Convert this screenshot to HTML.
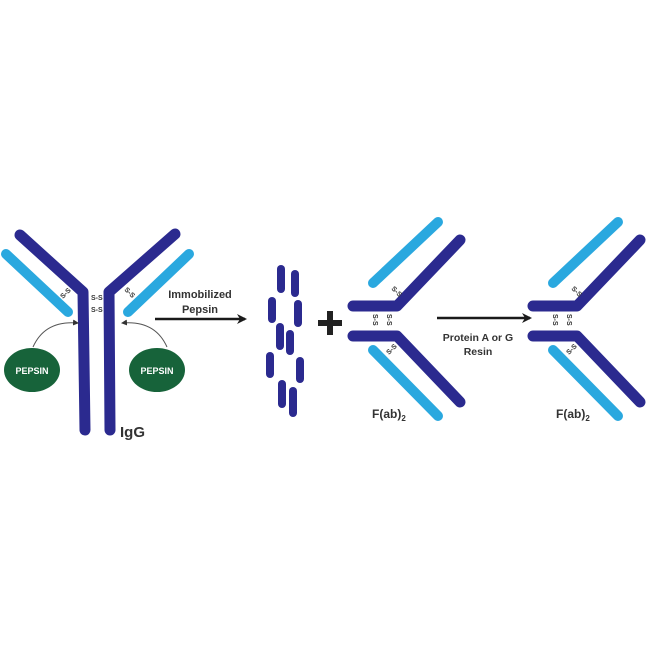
<!DOCTYPE html>
<html><head><style>
body{margin:0;background:#fff}
svg{display:block}
text{font-family:"Liberation Sans",sans-serif;font-weight:bold}
</style></head><body>
<svg width="650" height="650" viewBox="0 0 650 650">
<defs>
<marker id="ah" markerWidth="10" markerHeight="10" refX="8" refY="5" orient="auto" markerUnits="userSpaceOnUse"><path d="M0,0 L10,5 L0,10 L3,5z" fill="#1a1a1a"/></marker>
<marker id="sa" markerWidth="6" markerHeight="6" refX="5" refY="3" orient="auto" markerUnits="userSpaceOnUse"><path d="M0,0 L6,3 L0,6z" fill="#333"/></marker>
<g id="fab">
<polyline points="353,306 397,306 460,240" fill="none" stroke="#2b2a8f" stroke-width="11" stroke-linecap="round" stroke-linejoin="round"/>
<polyline points="353,336 397,336 460,402" fill="none" stroke="#2b2a8f" stroke-width="11" stroke-linecap="round" stroke-linejoin="round"/>
<line x1="373" y1="283" x2="438" y2="222" stroke="#2aa8df" stroke-width="10" stroke-linecap="round"/>
<line x1="373" y1="350" x2="438" y2="416" stroke="#2aa8df" stroke-width="10" stroke-linecap="round"/>
<text font-size="7" fill="#333" transform="translate(391,289) rotate(45)">S-S</text>
<text font-size="7" fill="#333" transform="translate(389,355) rotate(-45)">S-S</text>
<text font-size="7" fill="#333" transform="translate(373,314) rotate(90)">S-S</text>
<text font-size="7" fill="#333" transform="translate(387,314) rotate(90)">S-S</text>
</g>
</defs>
<polyline points="20,235 83,292 85,430" fill="none" stroke="#2b2a8f" stroke-width="11" stroke-linecap="round" stroke-linejoin="round"/>
<polyline points="175,234 109,292 110,430" fill="none" stroke="#2b2a8f" stroke-width="11" stroke-linecap="round" stroke-linejoin="round"/>
<line x1="6" y1="254" x2="68" y2="312" stroke="#2aa8df" stroke-width="10" stroke-linecap="round"/>
<line x1="189" y1="254" x2="128" y2="312" stroke="#2aa8df" stroke-width="10" stroke-linecap="round"/>
<text x="91" y="300" font-size="7" fill="#333">S-S</text>
<text x="91" y="312" font-size="7" fill="#333">S-S</text>
<text font-size="7" fill="#333" transform="translate(63,299) rotate(-45)">S-S</text>
<text font-size="7" fill="#333" transform="translate(124,290) rotate(45)">S-S</text>
<path d="M33,347 Q45,320 78,323" fill="none" stroke="#555" stroke-width="1" marker-end="url(#sa)"/>
<path d="M167,347 Q155,320 122,323" fill="none" stroke="#555" stroke-width="1" marker-end="url(#sa)"/>
<ellipse cx="32" cy="370" rx="28" ry="22" fill="#17633a"/>
<ellipse cx="157" cy="370" rx="28" ry="22" fill="#17633a"/>
<text x="32" y="374" font-size="9" fill="#fff" text-anchor="middle">PEPSIN</text>
<text x="157" y="374" font-size="9" fill="#fff" text-anchor="middle">PEPSIN</text>
<text x="120" y="437" font-size="15" fill="#333">IgG</text>
<line x1="155" y1="319" x2="245" y2="319" stroke="#1a1a1a" stroke-width="2.5" marker-end="url(#ah)"/>
<text x="200" y="298" font-size="11" fill="#333" text-anchor="middle">Immobilized</text>
<text x="200" y="313" font-size="11" fill="#333" text-anchor="middle">Pepsin</text>
<g stroke="#2b2a8f" stroke-width="8" stroke-linecap="round">
<line x1="281" y1="269" x2="281" y2="289"/><line x1="295" y1="274" x2="295" y2="293"/>
<line x1="272" y1="301" x2="272" y2="319"/><line x1="298" y1="304" x2="298" y2="323"/>
<line x1="280" y1="327" x2="280" y2="346"/><line x1="290" y1="334" x2="290" y2="351"/>
<line x1="270" y1="356" x2="270" y2="374"/><line x1="300" y1="361" x2="300" y2="379"/>
<line x1="282" y1="384" x2="282" y2="404"/><line x1="293" y1="391" x2="293" y2="413"/>
</g>
<path d="M330,311 V335 M318,323 H342" stroke="#222" stroke-width="6"/>
<use href="#fab"/>
<text x="372" y="418" font-size="12" fill="#333">F(ab)<tspan font-size="8" dy="3">2</tspan></text>
<line x1="437" y1="318" x2="530" y2="318" stroke="#1a1a1a" stroke-width="2.5" marker-end="url(#ah)"/>
<text x="478" y="341" font-size="10.5" fill="#333" text-anchor="middle">Protein A or G</text>
<text x="478" y="355" font-size="10.5" fill="#333" text-anchor="middle">Resin</text>
<use href="#fab" transform="translate(180,0)"/>
<text x="556" y="418" font-size="12" fill="#333">F(ab)<tspan font-size="8" dy="3">2</tspan></text>
</svg>
</body></html>
